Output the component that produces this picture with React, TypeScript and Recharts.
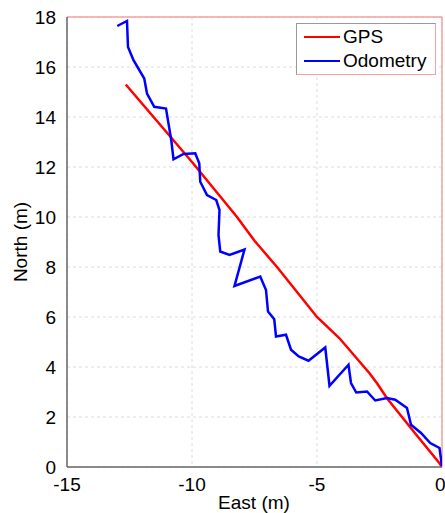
import { LineChart, Line, XAxis, YAxis, CartesianGrid, ReferenceLine } from "recharts";

// GPS track (East, North) in metres
const gpsEast = [-12.65, -10.0, -8.2, -7.5, -7.2, -6.6, -5.0, -4.1, -2.9, -2.6, -2.2, -1.2, -0.1, 0];
const gpsNorth = [15.3, 12.2, 10.0, 9.05, 8.7, 8.0, 6.0, 5.15, 3.75, 3.35, 2.75, 1.5, 0.15, 0];

// Odometry track (East, North) in metres
const odoEast = [
  -12.99, -12.6, -12.56, -12.34, -11.91, -11.8, -11.51, -11.04, -10.83, -10.74,
  -10.34, -9.87, -9.71, -9.67, -9.4, -9.03, -8.9, -8.94, -8.87, -8.5,
  -7.9, -8.3, -7.27, -7.04, -6.96, -6.71, -6.64, -6.24, -6.04, -5.73,
  -5.34, -4.67, -4.5, -3.74, -3.64, -3.43, -3.0, -2.67, -2.2, -1.87,
  -1.4, -1.24, -0.84, -0.47, -0.1, 0,
];
const odoNorth = [
  17.64, 17.84, 16.8, 16.27, 15.54, 14.94, 14.41, 14.34, 13.08, 12.31,
  12.52, 12.55, 12.15, 11.41, 10.88, 10.68, 10.28, 9.28, 8.62, 8.48,
  8.7, 7.24, 7.62, 7.08, 6.22, 5.91, 5.22, 5.29, 4.69, 4.42,
  4.25, 4.78, 3.25, 4.09, 3.36, 2.98, 3.02, 2.66, 2.76, 2.69,
  2.36, 1.69, 1.36, 0.96, 0.76, 0.02,
];

const xTicks = [-15, -10, -5, 0];
const yTicks = [0, 2, 4, 6, 8, 10, 12, 14, 16, 18];

const series = [
  { name: "GPS", color: "#ff0000" },
  { name: "Odometry", color: "#0000ff" },
];

const gpsData = gpsEast.map((x, i) => ({ x, y: gpsNorth[i] }));
const odoData = odoEast.map((x, i) => ({ x, y: odoNorth[i] }));

const FONT = "'Liberation Sans', Arial, sans-serif";
const FS = 19;

function LegendBox() {
  return (
    <div
      style={{
        position: "absolute",
        left: 296,
        top: 23,
        width: 140,
        height: 52,
        boxSizing: "border-box",
        border: "1px solid #999",
        borderRightColor: "#f4a0a0",
        borderBottomColor: "#f4a0a0",
        background: "#fff",
        fontFamily: FONT,
        fontSize: FS,
        color: "#000",
        paddingTop: 1,
      }}
    >
      {series.map((it) => (
        <div key={it.name} style={{ display: "flex", alignItems: "center", height: 24 }}>
          <div style={{ width: 36, height: 2.5, background: it.color, marginLeft: 7, marginRight: 3 }} />
          <span>{it.name}</span>
        </div>
      ))}
    </div>
  );
}

export default function App() {
  return (
    <div style={{ position: "absolute", left: 0, top: 0, background: "#fff" }}>
      <LineChart width={445} height={513} margin={{ top: 17, right: 3, left: 0, bottom: 16 }}>
        <CartesianGrid stroke="#dcdcdc" strokeDasharray="3 3" />
        <XAxis
          type="number"
          dataKey="x"
          domain={[-15, 0]}
          ticks={xTicks}
          allowDataOverflow
          height={30}
          tickLine={false}
          tickMargin={5}
          stroke="#666"
          strokeWidth={1.5}
          tick={{ fill: "#000", fontSize: FS, fontFamily: FONT }}
          label={() => (
            <text x={254} y={504} textAnchor="middle" dominantBaseline="middle" fontSize={FS} fontFamily={FONT} fill="#000">
              East (m)
            </text>
          )}
        />
        <YAxis
          type="number"
          dataKey="y"
          domain={[0, 18]}
          ticks={yTicks}
          allowDataOverflow
          width={67}
          tickLine={false}
          tickMargin={5}
          stroke="#666"
          strokeWidth={1.5}
          tick={{ fill: "#000", fontSize: FS, fontFamily: FONT }}
          label={() => (
            <text
              x={22}
              y={242}
              transform="rotate(-90 22 242)"
              textAnchor="middle"
              dominantBaseline="middle"
              fontSize={FS}
              fontFamily={FONT}
              fill="#000"
            >
              North (m)
            </text>
          )}
        />
        <ReferenceLine y={18} stroke="#f4a0a0" strokeWidth={1.5} />
        <ReferenceLine x={0} stroke="#f4a0a0" strokeWidth={1.5} />
        <Line
          data={gpsData}
          dataKey="y"
          name="GPS"
          stroke="#ff0000"
          strokeWidth={2.5}
          dot={false}
          type="linear"
          isAnimationActive={false}
        />
        <Line
          data={odoData}
          dataKey="y"
          name="Odometry"
          stroke="#0000ff"
          strokeWidth={2.5}
          dot={false}
          type="linear"
          isAnimationActive={false}
        />
      </LineChart>
      <LegendBox />
    </div>
  );
}
